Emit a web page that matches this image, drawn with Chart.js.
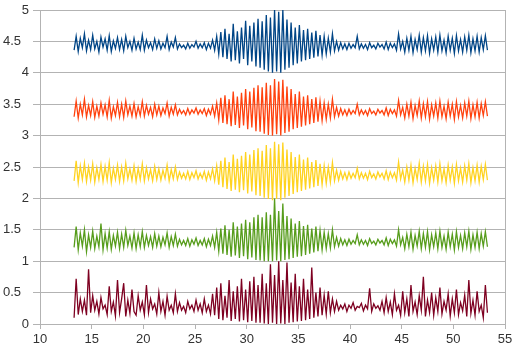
<!DOCTYPE html>
<html>
<head>
<meta charset="utf-8">
<script src="https://cdn.jsdelivr.net/npm/chart.js@4/dist/chart.umd.min.js"></script>
<style>
  html, body { margin: 0; padding: 0; background: #fff; }
  #wrap { width: 516px; height: 354px; }
</style>
</head>
<body>
<div id="wrap"><canvas id="grafico"></canvas></div>
<script>
// Muestreo común a las cinco señales (x = 13.3 ... 53.3, paso 0.2)
const xInicio = 13.3;
const xPaso = 0.2;

// Series (una por canal), leídas punto a punto
const serieAzul = [
  4.36, 4.58, 4.34, 4.55, 4.40, 4.62, 4.35, 4.52, 4.37, 4.60,
  4.38, 4.50, 4.33, 4.57, 4.41, 4.54, 4.36, 4.59, 4.34, 4.51,
  4.39, 4.56, 4.37, 4.53, 4.35, 4.58, 4.40, 4.50, 4.36, 4.55,
  4.38, 4.49, 4.37, 4.60, 4.36, 4.52, 4.40, 4.48, 4.37, 4.54,
  4.39, 4.51, 4.38, 4.47, 4.40, 4.58, 4.37, 4.49, 4.41, 4.56,
  4.38, 4.46, 4.40, 4.44, 4.38, 4.47, 4.39, 4.45, 4.41, 4.50,
  4.39, 4.46, 4.40, 4.48, 4.37, 4.47, 4.39, 4.52, 4.36, 4.58,
  4.30, 4.65, 4.25, 4.70, 4.22, 4.62, 4.18, 4.78, 4.20, 4.66,
  4.15, 4.72, 4.22, 4.83, 4.12, 4.75, 4.18, 4.80, 4.10, 4.86,
  4.08, 4.82, 4.05, 4.92, 4.02, 4.88, 4.00, 5.00, 4.02, 4.97,
  4.00, 5.00, 4.05, 4.85, 4.08, 4.80, 4.12, 4.72, 4.15, 4.76,
  4.18, 4.68, 4.20, 4.70, 4.22, 4.64, 4.24, 4.67, 4.26, 4.60,
  4.28, 4.58, 4.30, 4.55, 4.33, 4.62, 4.35, 4.50, 4.36, 4.48,
  4.38, 4.46, 4.37, 4.47, 4.39, 4.45, 4.40, 4.58, 4.38, 4.46,
  4.39, 4.45, 4.37, 4.48, 4.40, 4.44, 4.38, 4.47, 4.41, 4.45,
  4.38, 4.49, 4.37, 4.47, 4.40, 4.46, 4.36, 4.62, 4.38, 4.50,
  4.33, 4.55, 4.36, 4.58, 4.32, 4.53, 4.37, 4.60, 4.33, 4.56,
  4.35, 4.59, 4.31, 4.54, 4.36, 4.57, 4.33, 4.60, 4.35, 4.52,
  4.32, 4.58, 4.36, 4.55, 4.31, 4.59, 4.35, 4.53, 4.33, 4.57,
  4.36, 4.60, 4.32, 4.54, 4.35, 4.58, 4.33, 4.56, 4.37, 4.59,
  4.36
];

const serieNaranja = [
  3.30, 3.55, 3.28, 3.50, 3.33, 3.58, 3.30, 3.48, 3.32, 3.54,
  3.29, 3.47, 3.31, 3.52, 3.34, 3.49, 3.30, 3.56, 3.28, 3.46,
  3.32, 3.53, 3.30, 3.50, 3.29, 3.55, 3.33, 3.47, 3.31, 3.51,
  3.30, 3.46, 3.32, 3.54, 3.31, 3.48, 3.34, 3.45, 3.30, 3.50,
  3.33, 3.47, 3.32, 3.44, 3.35, 3.52, 3.31, 3.45, 3.34, 3.49,
  3.33, 3.42, 3.35, 3.40, 3.33, 3.43, 3.34, 3.41, 3.36, 3.44,
  3.34, 3.41, 3.35, 3.43, 3.32, 3.42, 3.34, 3.47, 3.31, 3.52,
  3.25, 3.60, 3.20, 3.64, 3.18, 3.58, 3.15, 3.70, 3.17, 3.62,
  3.12, 3.68, 3.16, 3.74, 3.10, 3.70, 3.13, 3.76, 3.07, 3.80,
  3.06, 3.77, 3.03, 3.84, 3.01, 3.80, 3.00, 3.90, 3.02, 3.86,
  3.00, 3.89, 3.04, 3.78, 3.06, 3.74, 3.10, 3.66, 3.12, 3.70,
  3.14, 3.62, 3.16, 3.64, 3.18, 3.58, 3.20, 3.61, 3.22, 3.55,
  3.24, 3.52, 3.26, 3.50, 3.28, 3.58, 3.30, 3.45, 3.31, 3.43,
  3.33, 3.41, 3.32, 3.42, 3.34, 3.40, 3.35, 3.50, 3.33, 3.41,
  3.34, 3.40, 3.32, 3.43, 3.35, 3.39, 3.33, 3.42, 3.36, 3.40,
  3.33, 3.44, 3.32, 3.42, 3.35, 3.41, 3.31, 3.56, 3.33, 3.45,
  3.28, 3.50, 3.31, 3.53, 3.27, 3.48, 3.32, 3.55, 3.28, 3.51,
  3.30, 3.54, 3.26, 3.49, 3.31, 3.52, 3.28, 3.55, 3.30, 3.47,
  3.27, 3.53, 3.31, 3.50, 3.26, 3.54, 3.30, 3.48, 3.28, 3.52,
  3.31, 3.55, 3.27, 3.49, 3.30, 3.53, 3.28, 3.51, 3.32, 3.54,
  3.31
];

const serieAmarilla = [
  2.28, 2.60, 2.25, 2.52, 2.30, 2.56, 2.27, 2.50, 2.29, 2.55,
  2.26, 2.49, 2.30, 2.54, 2.27, 2.51, 2.29, 2.57, 2.25, 2.48,
  2.30, 2.53, 2.27, 2.50, 2.28, 2.56, 2.31, 2.47, 2.29, 2.52,
  2.27, 2.48, 2.30, 2.55, 2.28, 2.49, 2.31, 2.46, 2.28, 2.51,
  2.30, 2.47, 2.29, 2.45, 2.32, 2.53, 2.28, 2.46, 2.31, 2.50,
  2.30, 2.42, 2.32, 2.40, 2.31, 2.43, 2.30, 2.41, 2.33, 2.44,
  2.31, 2.40, 2.32, 2.43, 2.29, 2.42, 2.31, 2.47, 2.28, 2.52,
  2.22, 2.60, 2.18, 2.65, 2.15, 2.58, 2.12, 2.70, 2.14, 2.63,
  2.10, 2.68, 2.13, 2.74, 2.08, 2.70, 2.11, 2.77, 2.05, 2.80,
  2.04, 2.76, 2.01, 2.85, 1.99, 2.80, 1.97, 2.90, 1.99, 2.86,
  1.97, 2.89, 2.01, 2.78, 2.04, 2.74, 2.07, 2.66, 2.10, 2.70,
  2.12, 2.62, 2.14, 2.65, 2.16, 2.58, 2.18, 2.61, 2.20, 2.55,
  2.22, 2.52, 2.24, 2.50, 2.26, 2.57, 2.28, 2.45, 2.29, 2.43,
  2.31, 2.41, 2.30, 2.42, 2.32, 2.40, 2.33, 2.48, 2.31, 2.41,
  2.32, 2.40, 2.30, 2.43, 2.33, 2.39, 2.31, 2.42, 2.34, 2.40,
  2.31, 2.44, 2.30, 2.42, 2.33, 2.41, 2.29, 2.58, 2.31, 2.45,
  2.26, 2.50, 2.29, 2.53, 2.25, 2.48, 2.30, 2.56, 2.26, 2.51,
  2.28, 2.54, 2.24, 2.49, 2.29, 2.52, 2.26, 2.55, 2.28, 2.47,
  2.25, 2.53, 2.29, 2.50, 2.24, 2.54, 2.28, 2.48, 2.26, 2.52,
  2.29, 2.55, 2.25, 2.49, 2.28, 2.53, 2.26, 2.51, 2.30, 2.54,
  2.29
];

const serieVerde = [
  1.22, 1.55, 1.18, 1.45, 1.24, 1.50, 1.15, 1.42, 1.22, 1.48,
  1.20, 1.40, 1.23, 1.60, 1.18, 1.44, 1.21, 1.47, 1.19, 1.41,
  1.24, 1.46, 1.20, 1.43, 1.22, 1.49, 1.25, 1.40, 1.21, 1.45,
  1.20, 1.42, 1.23, 1.47, 1.22, 1.41, 1.25, 1.39, 1.22, 1.44,
  1.24, 1.40, 1.23, 1.38, 1.26, 1.45, 1.22, 1.39, 1.25, 1.43,
  1.24, 1.35, 1.26, 1.33, 1.25, 1.36, 1.24, 1.34, 1.27, 1.37,
  1.25, 1.33, 1.26, 1.36, 1.23, 1.35, 1.25, 1.40, 1.22, 1.46,
  1.16, 1.52, 1.12, 1.57, 1.10, 1.50, 1.07, 1.62, 1.09, 1.55,
  1.05, 1.60, 1.08, 1.66, 1.03, 1.62, 1.06, 1.70, 1.02, 1.74,
  1.01, 1.70, 1.00, 1.78, 1.00, 1.74, 1.00, 2.00, 1.01, 1.80,
  1.00, 1.92, 1.02, 1.72, 1.03, 1.68, 1.05, 1.60, 1.07, 1.64,
  1.08, 1.56, 1.10, 1.58, 1.12, 1.52, 1.14, 1.55, 1.16, 1.49,
  1.18, 1.46, 1.20, 1.44, 1.21, 1.50, 1.23, 1.38, 1.24, 1.36,
  1.26, 1.34, 1.25, 1.35, 1.27, 1.33, 1.28, 1.42, 1.26, 1.34,
  1.27, 1.33, 1.25, 1.36, 1.28, 1.32, 1.26, 1.35, 1.29, 1.33,
  1.26, 1.37, 1.25, 1.35, 1.28, 1.34, 1.24, 1.50, 1.26, 1.38,
  1.20, 1.43, 1.23, 1.46, 1.19, 1.41, 1.24, 1.48, 1.20, 1.44,
  1.22, 1.47, 1.18, 1.42, 1.23, 1.45, 1.20, 1.48, 1.22, 1.40,
  1.19, 1.46, 1.23, 1.43, 1.18, 1.47, 1.22, 1.41, 1.20, 1.45,
  1.23, 1.48, 1.19, 1.42, 1.22, 1.46, 1.20, 1.44, 1.24, 1.47,
  1.23
];

const serieGranate = [
  0.10, 0.72, 0.15, 0.40, 0.20, 0.38, 0.14, 0.87, 0.18, 0.45,
  0.22, 0.36, 0.16, 0.42, 0.24, 0.30, 0.15, 0.60, 0.20, 0.35,
  0.13, 0.70, 0.18, 0.40, 0.65, 0.12, 0.38, 0.17, 0.55, 0.20,
  0.14, 0.45, 0.22, 0.35, 0.15, 0.62, 0.18, 0.40, 0.24, 0.32,
  0.16, 0.50, 0.20, 0.36, 0.14, 0.44, 0.22, 0.30, 0.18, 0.48,
  0.20, 0.34, 0.22, 0.28, 0.18, 0.36, 0.24, 0.30, 0.20, 0.38,
  0.22, 0.32, 0.18, 0.40, 0.20, 0.30, 0.16, 0.48, 0.14, 0.58,
  0.08, 0.65, 0.06, 0.45, 0.10, 0.70, 0.05, 0.52, 0.08, 0.60,
  0.04, 0.72, 0.06, 0.55, 0.03, 0.68, 0.05, 0.75, 0.02, 0.62,
  0.02, 0.80, 0.01, 0.65, 0.00, 0.95, 0.02, 0.78, 0.00, 1.00,
  0.01, 0.70, 0.00, 0.98, 0.02, 0.66, 0.03, 0.80, 0.04, 0.60,
  0.05, 0.72, 0.06, 0.55, 0.08, 0.90, 0.10, 0.50, 0.12, 0.58,
  0.14, 0.46, 0.16, 0.52, 0.18, 0.40, 0.20, 0.36, 0.22, 0.30,
  0.24, 0.32, 0.20, 0.30, 0.25, 0.34, 0.22, 0.28, 0.26, 0.33,
  0.21, 0.30, 0.24, 0.57, 0.20, 0.32, 0.25, 0.29, 0.22, 0.36,
  0.18, 0.42, 0.20, 0.35, 0.15, 0.48, 0.22, 0.30, 0.14, 0.52,
  0.18, 0.40, 0.12, 0.62, 0.20, 0.35, 0.15, 0.45, 0.22, 0.75,
  0.12, 0.38, 0.18, 0.50, 0.14, 0.42, 0.20, 0.58, 0.16, 0.36,
  0.22, 0.48, 0.13, 0.40, 0.18, 0.55, 0.15, 0.34, 0.21, 0.46,
  0.12, 0.70, 0.17, 0.38, 0.14, 0.52, 0.20, 0.30, 0.10, 0.62,
  0.18
];

// Marcas de los ejes
const ticksX = [10, 15, 20, 25, 30, 35, 40, 45, 50, 55];
const ticksY = [0, 0.5, 1, 1.5, 2, 2.5, 3, 3.5, 4, 4.5, 5];

// Paleta (la de LibreOffice por defecto)
const colores = ['#004586', '#ff420e', '#ffd320', '#579d1c', '#7e0021'];

const fuente = { family: "'Liberation Sans', Arial, sans-serif", size: 13 };
const gris = '#b3b3b3';
const colorTexto = '#333';

function aPuntos(valores) {
    return valores.map((v, i) => ({ x: +(xInicio + i * xPaso).toFixed(2), y: v }));
}

const series = [serieAzul, serieNaranja, serieAmarilla, serieVerde, serieGranate];

// Borde derecho del área de trazado y rótulos del eje Y
// (las medias unidades van algo más a la izquierda que los enteros)
const marco = {
    id: 'marco',
    beforeDatasetsDraw(chart) {
        const { ctx, chartArea } = chart;
        ctx.save();
        ctx.strokeStyle = gris;
        ctx.lineWidth = 1;
        ctx.beginPath();
        ctx.moveTo(Math.round(chartArea.right) + 0.5, chartArea.top);
        ctx.lineTo(Math.round(chartArea.right) + 0.5, chartArea.bottom);
        ctx.stroke();
        ctx.restore();
    },
    afterDraw(chart) {
        const { ctx } = chart;
        const y = chart.scales.y;
        ctx.save();
        ctx.font = `${fuente.size}px ${fuente.family}`;
        ctx.fillStyle = colorTexto;
        ctx.textAlign = 'right';
        ctx.textBaseline = 'middle';
        ticksY.forEach(v => {
            const entero = Number.isInteger(v);
            const texto = entero ? String(v) : v.toFixed(1);
            const xFin = y.left + (entero ? 29 : 21);
            ctx.fillText(texto, xFin, y.getPixelForValue(v));
        });
        ctx.restore();
    }
};

new Chart(document.getElementById('grafico').getContext('2d'), {
    type: 'line',
    data: {
        datasets: series.map((s, k) => ({
            data: aPuntos(s),
            borderColor: colores[k],
            borderWidth: 1.3,
            pointRadius: 0,
            tension: 0,
            fill: false
        }))
    },
    options: {
        responsive: true,
        maintainAspectRatio: false,
        animation: false,
        parsing: false,
        layout: { padding: { top: 10, right: 11, left: 0, bottom: 0 } },
        plugins: {
            legend: { display: false },
            tooltip: { enabled: false }
        },
        scales: {
            x: {
                type: 'linear',
                min: ticksX[0],
                max: ticksX[ticksX.length - 1],
                afterBuildTicks: scale => { scale.ticks = ticksX.map(v => ({ value: v })); },
                afterFit: scale => { scale.height = 30; },
                grid: { drawOnChartArea: false, color: gris, tickLength: 5 },
                border: { color: gris },
                ticks: { color: colorTexto, font: fuente, padding: 3, maxRotation: 0 }
            },
            y: {
                min: ticksY[0],
                max: ticksY[ticksY.length - 1],
                afterBuildTicks: scale => { scale.ticks = ticksY.map(v => ({ value: v })); },
                afterFit: scale => { scale.width = 40; },
                grid: { color: gris, tickLength: 7 },
                border: { color: gris },
                ticks: { display: false }
            }
        }
    },
    plugins: [marco]
});
</script>
</body>
</html>
